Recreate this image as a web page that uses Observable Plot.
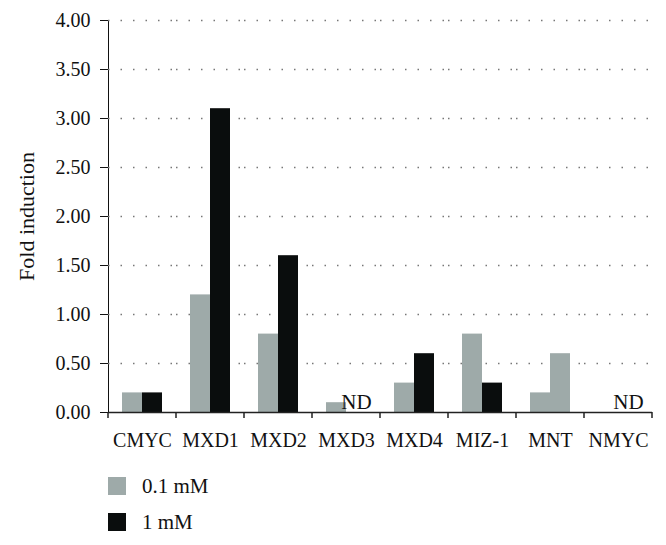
<!DOCTYPE html>
<html><head><meta charset="utf-8">
<script src="https://cdn.jsdelivr.net/npm/d3@7"></script>
<script src="https://cdn.jsdelivr.net/npm/@observablehq/plot@0.6"></script>
<style>
body{margin:0;background:#fff;font-family:"Liberation Serif",serif;color:#111}
#wrap{position:relative;width:666px;height:545px}
#wrap svg{position:absolute;left:0;top:0}
#wrap svg [aria-label="y-axis label"] text{font-size:22px}
.legend{position:absolute;left:108px;display:flex;align-items:center;height:18px;font-size:21px}
.sw{width:18px;height:18px;margin-right:16px}
</style></head><body><div id="wrap"></div>
<script>
const genes = ["CMYC","MXD1","MXD2","MXD3","MXD4","MIZ-1","MNT","NMYC"];
const series = ["0.1 mM","1 mM"];
const low = [0.2,1.2,0.8,0.1,0.3,0.8,0.2,null];
const high = [0.2,3.1,1.6,null,0.6,0.3,0.6,null];
const ndGenes = ["MXD3","NMYC"];
const yTicks = [0,0.5,1,1.5,2,2.5,3,3.5,4];

const GRAY = "#9eaaa9", BLACK = "#0a0d0d";
const rows = genes.flatMap((g,i)=>[
  {gene:g, series:series[0], value:low[i]},
  {gene:g, series:series[1], value:high[i]}
]).filter(d=>d.value!=null);

const chart = Plot.plot({
  width:666, height:460,
  marginLeft:108, marginRight:14, marginTop:20, marginBottom:48,
  style:{fontFamily:"Liberation Serif", fontSize:"20px", color:"#111", background:"transparent"},
  fx:{domain:genes, padding:0, label:null, tickSize:0, tickPadding:20},
  x:{domain:series, axis:null, paddingInner:0, paddingOuter:0.685},
  y:{domain:[0,4], ticks:yTicks, tickFormat:".2f", tickSize:8, tickPadding:10, line:true,
     label:"Fold induction", labelArrow:"none", labelAnchor:"center", labelOffset:90},
  marks:[
    Plot.ruleY(yTicks.filter(v=>v>0), {stroke:"#777", strokeDasharray:"1.5,11", strokeWidth:1.5}),
    Plot.barY(rows, {fx:"gene", x:"series", y:"value",
      fill: d => (d.series === "1 mM" && d.gene !== "MNT") ? BLACK : GRAY}),
    Plot.ruleY([0], {stroke:"#222", strokeWidth:1.5}),
    Plot.text(ndGenes, {fx:d=>d, x:()=>"1 mM", y:()=>0, text:()=>"ND", lineAnchor:"bottom", dy:-4, fontSize:21, fill:"#111"})
  ]
});
document.getElementById("wrap").appendChild(chart);

// category boundary ticks from the fx scale
const fxs = chart.scale("fx");
const bounds = genes.map(g=>fxs.apply(g)).concat([fxs.apply(genes[genes.length-1]) + fxs.bandwidth]);
const yz = chart.scale("y").apply(0);
d3.select(chart).append("g").attr("stroke","#222").attr("stroke-width",1.5)
  .selectAll("line").data(bounds).join("line")
  .attr("x1",d=>d).attr("x2",d=>d).attr("y1",yz).attr("y2",yz+6);

// legend
const wrap = document.getElementById("wrap");
[[series[0],GRAY,477],[series[1],BLACK,513]].forEach(([lab,col,top])=>{
  const r = document.createElement("div");
  r.className="legend"; r.style.top=top+"px";
  r.innerHTML = `<div class="sw" style="background:${col}"></div><span>${lab}</span>`;
  wrap.appendChild(r);
});
</script></body></html>
